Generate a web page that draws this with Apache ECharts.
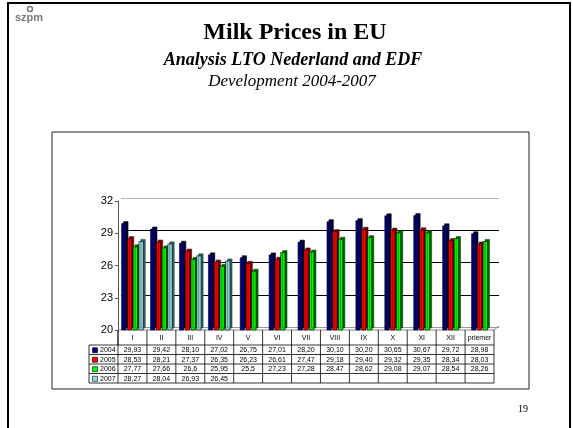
<!DOCTYPE html>
<html><head><meta charset="utf-8">
<script src="https://cdn.jsdelivr.net/npm/echarts@6/dist/echarts.min.js"></script>
<style>html,body{margin:0;padding:0;background:#fff}#c{width:573px;height:428px}</style>
</head><body><div id="c"></div>
<script>
const categories = ['I','II','III','IV','V','VI','VII','VIII','IX','X','XI','XII','priemer'];
const years = ['2004','2005','2006','2007'];
const v2004 = ['29,93','29,42','28,10','27,02','26,75','27,01','28,20','30,10','30,20','30,65','30,67','29,72','28,98'];
const v2005 = ['28,53','28,21','27,37','26,35','26,23','26,61','27,47','29,18','29,40','29,32','29,35','28,34','28,03'];
const v2006 = ['27,77','27,66','26,6','25,95','25,5','27,23','27,28','28,47','28,62','29,08','29,07','28,54','28,26'];
const v2007 = ['28,27','28,04','26,93','26,45'];
const yTicks = [20,23,26,29,32];
const titleText = 'Milk Prices in EU';
const subText = 'Analysis LTO Nederland and EDF';
const sub2Text = 'Development 2004-2007';
const pageNo = '19';

const colors = ['#000080','#FF0000','#00FF00','#99DDDD'];
const sideColors = ['#00002a','#6a0000','#006000','#2f5a5a'];
const rows = [v2004, v2005, v2006, v2007];
const num = s => parseFloat(s.replace(',', '.'));
const fullCount = v2007.length;

function mk(k, ax, data) {
  return {
    type: 'bar', name: years[k], xAxisIndex: ax, yAxisIndex: 0, data,
    barWidth: 5, barGap: '15%', silent: true,
    itemStyle: { color: colors[k], borderColor: '#000', borderWidth: 0.6,
      shadowColor: sideColors[k], shadowOffsetX: 2, shadowOffsetY: -2, shadowBlur: 0 }
  };
}
const series = [];
rows.forEach((r, k) => {
  series.push(mk(k, 0, categories.map((c, i) => (i < fullCount && r[i] !== undefined) ? num(r[i]) : '-')));
});
rows.forEach((r, k) => {
  if (r.length > fullCount)
    series.push(mk(k, 1, categories.map((c, i) => (i >= fullCount && r[i] !== undefined) ? num(r[i]) : '-')));
});

const chart = echarts.init(document.getElementById('c'), null, { renderer: 'canvas' });
const G = { left: 118, top: 201, width: 376, height: 129 };
chart.setOption({
  animation: false,
  backgroundColor: '#fff',
  grid: [
    { left: G.left, top: G.top, width: G.width, height: G.height },
    { left: G.left + 3, top: G.top - 3, width: G.width + 2, height: G.height }
  ],
  xAxis: [
    { type: 'category', data: categories, gridIndex: 0, axisLine: { show: false }, axisTick: { show: false }, axisLabel: { show: false } },
    { type: 'category', data: categories, gridIndex: 0, show: false },
    { type: 'category', data: categories, gridIndex: 1, show: false }
  ],
  yAxis: [
    { type: 'value', gridIndex: 0, min: yTicks[0], max: yTicks[yTicks.length - 1], interval: 3,
      axisLine: { show: true, lineStyle: { color: '#555', width: 1 } },
      axisTick: { show: true, length: 3, lineStyle: { color: '#555' } },
      axisLabel: { fontFamily: 'Liberation Sans, Arial', fontSize: 11, color: '#000', margin: 5 },
      splitLine: { show: false } },
    { type: 'value', gridIndex: 1, min: yTicks[0], max: yTicks[yTicks.length - 1], interval: 3,
      axisLine: { show: false }, axisTick: { show: false }, axisLabel: { show: false },
      splitLine: { show: true, lineStyle: { color: ['#999', '#000', '#000', '#000', '#b8b8b8'], width: [1] } } }
  ],
  series
});

// build table and decorations
const c0 = chart.convertToPixel({ xAxisIndex: 0 }, 0);
const c1 = chart.convertToPixel({ xAxisIndex: 0 }, 1);
const band = c1 - c0;
const tLeft = c0 - band / 2;
const tRight = tLeft + band * categories.length;
const yFloor = chart.convertToPixel({ yAxisIndex: 0 }, yTicks[0]);
const headH = 15, rowH = 9.5;
const legLeft = tLeft - 29;
const els = [];
const line = (x1, y1, x2, y2, col, w) => els.push({ type: 'line', silent: true, shape: { x1, y1, x2, y2 }, style: { stroke: col || '#000', lineWidth: w || 0.8 } });
const txt = (x, y, t, font, align, col) => els.push({ type: 'text', silent: true, x, y, style: { text: t, font, fill: col || '#000', align: align || 'center', verticalAlign: 'middle' } });
const tFont = '7px "Liberation Sans", Arial';

// outer slide frame and chart box
els.push({ type: 'rect', silent: true, shape: { x: 8, y: 3, width: 562, height: 440 }, style: { fill: 'none', stroke: '#000', lineWidth: 2 } });
els.push({ type: 'rect', silent: true, shape: { x: 52, y: 132, width: 477, height: 257 }, style: { fill: 'none', stroke: '#222', lineWidth: 1 } });

// floor
line(tLeft, yFloor, tRight, yFloor, '#888', 1);
line(tRight, yFloor, tRight + 5, yFloor - 4, '#888', 1);

// header row
line(tLeft, yFloor, tLeft, yFloor + headH);
for (let i = 0; i <= categories.length; i++) {
  const x = tLeft + i * band;
  line(x, yFloor, x, yFloor + headH + rowH * rows.length);
}
categories.forEach((c, i) => txt(tLeft + (i + 0.5) * band, yFloor + headH / 2 + 0.5, c, tFont));
// horizontal rows
line(legLeft, yFloor + headH, tRight, yFloor + headH);
rows.forEach((r, k) => {
  const yT = yFloor + headH + k * rowH;
  line(legLeft, yT + rowH, tRight, yT + rowH);
  const yc = yT + rowH / 2 + 0.5;
  els.push({ type: 'rect', silent: true, shape: { x: legLeft + 3.5, y: yc - 2.5, width: 5, height: 5 }, style: { fill: colors[k], stroke: '#000', lineWidth: 0.6 } });
  txt(legLeft + 11, yc, years[k], tFont, 'left');
  categories.forEach((c, i) => { if (r[i] !== undefined) txt(tLeft + (i + 0.5) * band, yc, r[i], tFont); });
});
line(legLeft, yFloor + headH, legLeft, yFloor + headH + rowH * rows.length);

// titles
txt(295, 33, titleText, 'bold 24px "Liberation Serif", "Times New Roman", serif');
txt(293, 60, subText, 'bold italic 18px "Liberation Serif", "Times New Roman", serif');
txt(292, 82, sub2Text, 'italic 17px "Liberation Serif", "Times New Roman", serif');
txt(523, 409, pageNo, '10px "Liberation Serif", "Times New Roman", serif');
// logo
els.push({ type: 'circle', silent: true, shape: { cx: 30, cy: 9, r: 2.5 }, style: { fill: 'none', stroke: '#777', lineWidth: 1.5 } });
txt(29, 18, 'szpm', 'bold 11px "Liberation Sans", Arial', 'center', '#777');

chart.setOption({ graphic: { elements: els } });
</script></body></html>
